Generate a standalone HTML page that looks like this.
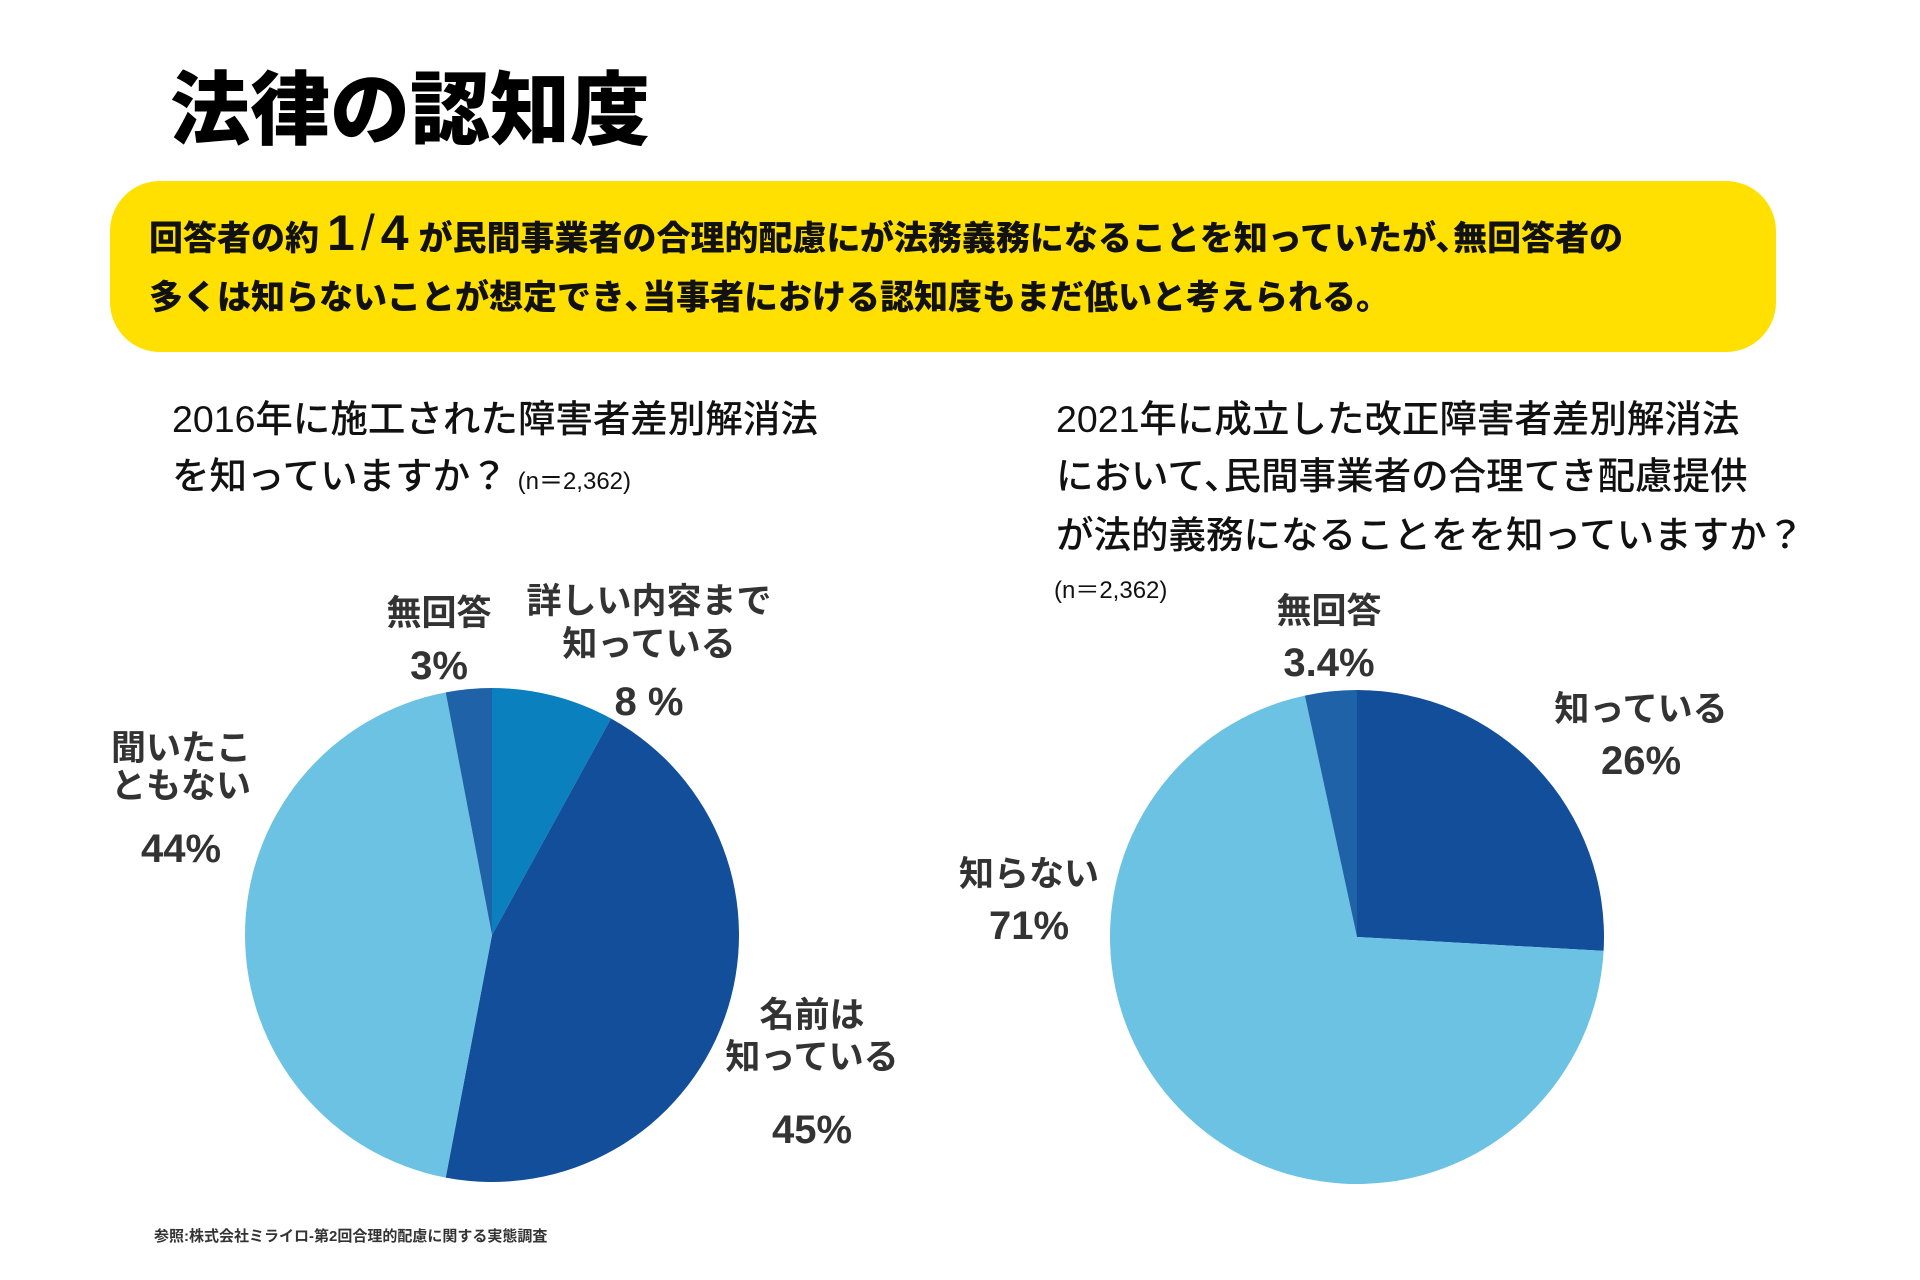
<!DOCTYPE html>
<html><head><meta charset="utf-8">
<style>
html,body{margin:0;padding:0;background:#fff;}
svg{display:block;}
text{font-family:"Liberation Sans","Noto Sans CJK JP",sans-serif;}
.lbl{font-weight:700;fill:#333;font-size:35px;text-anchor:middle;}
.pct{font-weight:700;fill:#333;font-size:40px;text-anchor:middle;}
.q{font-size:37.5px;fill:#111;font-weight:500;}
</style></head>
<body>
<svg id="chart" width="1920" height="1280" viewBox="0 0 1920 1280" xmlns="http://www.w3.org/2000/svg">
  <rect width="1920" height="1280" fill="#fff"/>
  <text x="170" y="138" font-size="80" font-weight="900" fill="#000">法律の認知度</text>
  <rect x="110" y="181" width="1666" height="171" rx="50" fill="#FFE000"/>
  <text x="149" y="250" font-size="34" font-weight="900" fill="#111">回答者の約<tspan font-size="50" dx="8">1</tspan><tspan font-size="50" font-weight="300" dx="6">/</tspan><tspan font-size="50" dx="6">4</tspan><tspan dx="10">が民間事業者の合理的配慮にが法務義務になることを知っていたが､無回答者の</tspan></text>
  <text x="149" y="309" font-size="34" font-weight="900" fill="#111">多くは知らないことが想定でき､当事者における認知度もまだ低いと考えられる。</text>

  <text class="q" x="172" y="432">2016年に施工された障害者差別解消法</text>
  <text class="q" x="172" y="489">を知っていますか？<tspan font-size="24" dx="10">(n＝2,362)</tspan></text>

  <text class="q" x="1056" y="432">2021年に成立した改正障害者差別解消法</text>
  <text class="q" x="1056" y="489">において､民間事業者の合理てき配慮提供</text>
  <text class="q" x="1056" y="548">が法的義務になることをを知っていますか？</text>
  <text x="1054" y="598" font-size="24" fill="#111">(n＝2,362)</text>

  <g id="pieL"></g>
  <g id="pieR"></g>

  <g>
    <text class="lbl" x="439" y="625">無回答</text>
    <text class="pct" x="439" y="679">3%</text>
    <text class="lbl" x="649" y="613">詳しい内容まで</text>
    <text class="lbl" x="649" y="656">知っている</text>
    <text class="pct" x="649" y="715">8 %</text>
    <text class="lbl" x="181" y="760">聞いたこ</text>
    <text class="lbl" x="181" y="798">ともない</text>
    <text class="pct" x="181" y="862">44%</text>
    <text class="lbl" x="812" y="1027">名前は</text>
    <text class="lbl" x="812" y="1069">知っている</text>
    <text class="pct" x="812" y="1143">45%</text>
  </g>
  <g>
    <text class="lbl" x="1329" y="623">無回答</text>
    <text class="pct" x="1329" y="676">3.4%</text>
    <text class="lbl" x="1641" y="721">知っている</text>
    <text class="pct" x="1641" y="774">26%</text>
    <text class="lbl" x="1029" y="886">知らない</text>
    <text class="pct" x="1029" y="939">71%</text>
  </g>
  <text x="154" y="1241" font-size="15" font-weight="700" fill="#333">参照:株式会社ミライロ-第2回合理的配慮に関する実態調査</text>
</svg>
<script>
const leftCategories = ["詳しい内容まで知っている", "名前は知っている", "聞いたこともない", "無回答"];
const leftValues = [8, 45, 44, 3];
const rightCategories = ["知っている", "知らない", "無回答"];
const rightValues = [26, 71, 3.4];
const leftColors = ["#0A80BF", "#134E9A", "#6BC2E3", "#1F62A8"];
const rightColors = ["#134E9A", "#6BC2E3", "#1F62A8"];

function drawPie(gid, cats, vals, colors, cx, cy, r) {
  const g = document.getElementById(gid);
  const total = vals.reduce((a, b) => a + b, 0);
  let a0 = 0;
  vals.forEach((v, i) => {
    const a1 = a0 + v / total * Math.PI * 2;
    const x0 = cx + r * Math.sin(a0), y0 = cy - r * Math.cos(a0);
    const x1 = cx + r * Math.sin(a1), y1 = cy - r * Math.cos(a1);
    const large = (a1 - a0) > Math.PI ? 1 : 0;
    const p = document.createElementNS("http://www.w3.org/2000/svg", "path");
    p.setAttribute("d", `M${cx},${cy} L${x0},${y0} A${r},${r} 0 ${large} 1 ${x1},${y1} Z`);
    p.setAttribute("fill", colors[i]);
    
    
    p.setAttribute("aria-label", cats[i]);
    g.appendChild(p);
    a0 = a1;
  });
}
drawPie("pieL", leftCategories, leftValues, leftColors, 492, 935, 247);
drawPie("pieR", rightCategories, rightValues, rightColors, 1357, 937, 247);
</script>
</body></html>
